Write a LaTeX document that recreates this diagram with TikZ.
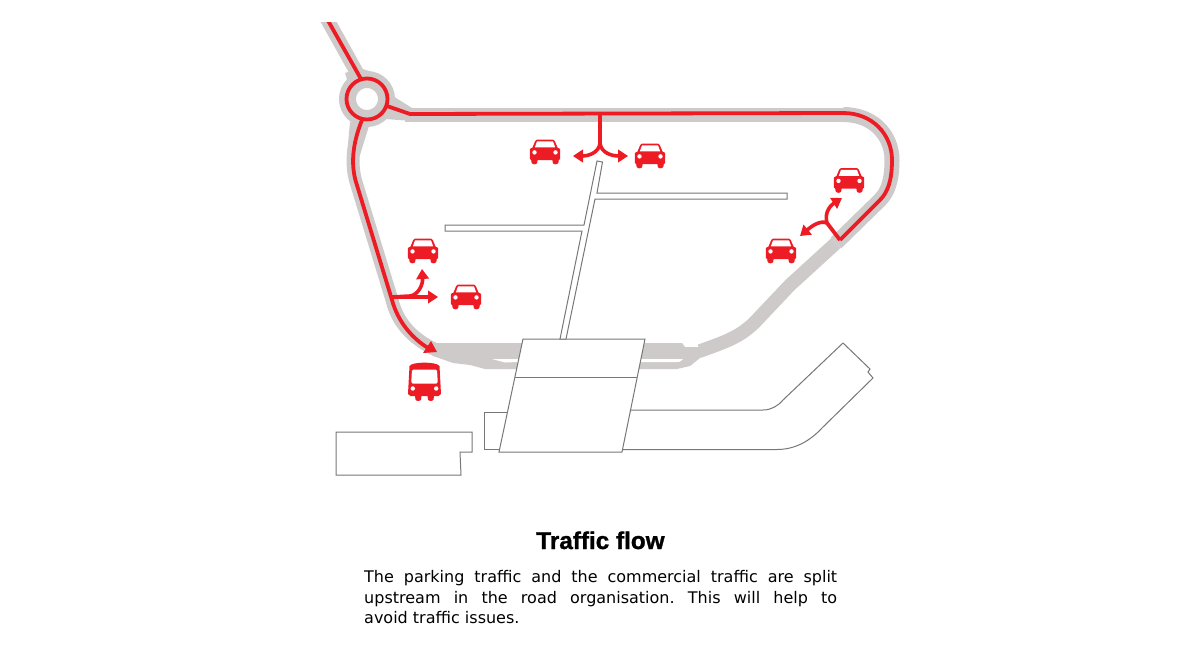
\documentclass[tikz,border=0pt]{standalone}
\usepackage{fontspec}
\setmainfont{DejaVu Sans}
\newfontfamily\titlefont[BoldFeatures={FakeBold=1.2}]{Liberation Sans}
\usetikzlibrary{arrows.meta}
\definecolor{roadred}{HTML}{ED1C24}
\definecolor{roadgray}{HTML}{CFCACA}
\definecolor{wallgray}{HTML}{777777}
\tikzset{
  road/.style={draw=roadgray, line width=14pt, line join=round},
  route/.style={draw=roadred, line width=3.8pt, line join=round},
  turn/.style={draw=roadred, line width=3.6pt, -{Triangle[length=10pt,width=12.5pt]}},
  wall/.style={draw=wallgray, line width=1pt, fill=white, line join=miter},
  car/.pic={
    \fill[roadred] (-15.2,7) -- (-15.2,-3) -- (-12.5,-4.5) -- (-9.8,-11) .. controls (-9.2,-12.4) .. (-8,-12.4)
      -- (8,-12.4) .. controls (9.2,-12.4) .. (9.8,-11) -- (12.5,-4.5) -- (15.2,-3) -- (15.2,7) -- (13.8,8)
      -- (13.4,10.8) .. controls (12.6,12.8) and (8.6,12.8) .. (7.8,10.8) -- (7.4,8) -- (-7.4,8)
      -- (-7.8,10.8) .. controls (-8.6,12.8) and (-12.6,12.8) .. (-13.4,10.8) -- (-13.8,8) -- cycle;
    \fill[white] (-8,-10.6) -- (8,-10.6) -- (10.2,-4.6) -- (-10.2,-4.6) -- cycle;
    \fill[white] (-10.5,0.4) circle (2.2) (10.5,0.4) circle (2.2);
  },
  bus/.pic={
    \fill[roadred] (-16.5,13) -- (-15,-15) .. controls (-12,-19.5) and (12,-19.5) .. (15,-15) -- (16.5,13)
      .. controls (16,14.5) .. (14,15) -- (9.5,15) -- (9,18.5) .. controls (8.5,20.4) and (4,20.4) .. (3.5,18.5) -- (3,15)
      -- (-3,15) -- (-3.5,18.5) .. controls (-4,20.4) and (-8.5,20.4) .. (-9,18.5) -- (-9.5,15) -- (-14,15)
      .. controls (-16,14.5) .. cycle;
    \fill[white, rounded corners=1.5pt] (-12.5,-11.5) -- (12.5,-11.5) -- (13.3,2.5) -- (-13.3,2.5) -- cycle;
    \fill[white] (-11.7,7.5) circle (2.2) (11.7,7.5) circle (2.2);
  }
}
\begin{document}
\begin{tikzpicture}[x=1pt, y=-1pt]
\useasboundingbox (0,0) rectangle (1200,667);
% roads
\begin{scope}
\clip (300,22) rectangle (400,90);
\draw[road] (322,10) -- (361,80);
\end{scope}
\fill[roadgray] (345,73) -- (360,68) -- (372,72) -- (350,90) -- cycle;
\fill[roadgray] (393,96) -- (412,108) -- (412,121) -- (385,119) -- cycle;
\fill[roadgray] (350,122) -- (369,126) -- (360,155) -- (347,155) -- cycle;
\draw[road] (405,114.5) -- (843,114.5);
\draw[road, line width=15pt] (843,114.5) .. controls (873,114.5) and (892,135) .. (892,160)
  .. controls (892,180) and (888,192) .. (880,200) -- (836,243);
\draw[road, line width=13.5pt] (836,243) -- (790,285) -- (755,322)
  .. controls (740,337) and (725,342) .. (700,351);
\draw[road, line width=13pt] (362,122) .. controls (352,145) and (351,165) .. (356,182) -- (392,300)
  .. controls (398,325) and (415,340) .. (436,350);
\fill[roadgray] (436,343) -- (447,343) -- (682,343) -- (685,347) -- (707,347) -- (715,352) -- (700,358)
  -- (690,366) -- (677,369) -- (485,369) -- (470,365) -- (453,363) -- (433,356) -- cycle;
\fill[white] (492,359) -- (683,359) .. controls (680,362) .. (676,362) -- (518,362) -- (505,362.5) -- cycle;
\draw[roadgray, line width=17pt] (367,99) circle (19.5);
% routes
\begin{scope}
\clip (300,22) rectangle (400,90);
\draw[route] (322,10) -- (361,79);
\end{scope}
\draw[route] (367,99) circle (20.5);
\draw[route] (387,106) -- (410,114) -- (843,113) .. controls (873,113) and (892,135) .. (892,160)
  .. controls (892,180) and (888,192) .. (880,200) -- (840,240);
\draw[route] (362,120) .. controls (352,145) and (351,165) .. (356,182) -- (392,300)
  .. controls (398,322) and (412,338) .. (428,348);
\fill[roadred] (437,352) -- (423,353) -- (431,341) -- cycle;
% branches
\coordinate (topsplit) at (600,143);
\coordinate (leftsplit) at (392,297);
\coordinate (rightsplit) at (827,223);
\draw[route] (600,113) -- (topsplit);
\draw[turn] (topsplit) .. controls (599,153) and (588,156) .. (573,156);
\draw[turn] (topsplit) .. controls (601,153) and (612,156) .. (628,156);
\draw[turn] (leftsplit) -- (438,297);
\draw[turn] (leftsplit) -- (410,296) .. controls (418,295) and (423,285) .. (422,269);
\draw[route] (840,240) -- (rightsplit);
\draw[turn] (rightsplit) .. controls (824,212) and (831,205) .. (842,198);
\draw[turn] (rightsplit) .. controls (820,220) and (812,226) .. (800,236);
% buildings
\draw[wall] (336,432) -- (472,432) -- (472,452) -- (460,452) -- (461,475) -- (336,475) -- cycle;
\draw[wall] (484,412) -- (510,412) -- (510,449.5) -- (484,449.5) -- cycle;
\draw[wall] (625,410) -- (763,410) .. controls (771,410) and (778,406) .. (783,400) -- (843,343)
  -- (870,369) -- (868,372) -- (873,378) -- (822,428) .. controls (810,441) and (795,449.5) .. (777,449.5)
  -- (615,449.5) -- cycle;
\draw[wall] (523,339) -- (645,339) -- (622,452) -- (499,452) -- cycle;
\draw[wall] (515,377) -- (637,377);
\draw[wall] (597,161) -- (602.5,162) -- (597,193) -- (787,193) -- (787,199) -- (595,199) -- (566,339)
  -- (560,339) -- (582,231) -- (445,231) -- (445,225) -- (584,225) -- cycle;
% vehicles
\pic at (545,152) {car};
\pic at (650,156) {car};
\pic at (849,180.5) {car};
\pic at (781,251) {car};
\pic at (423,251) {car};
\pic at (466,297) {car};
\pic at (424.5,381) {bus};
% captions
\node[font=\titlefont\bfseries\fontsize{24.3}{28}\selectfont, anchor=base] (title) at (600.5,549) {Traffic flow};
\node[font=\fontsize{16}{20.7}\selectfont, text width=473pt, align=justify, inner sep=0pt, anchor=north west] (caption) at (364,570)
  {\frenchspacing The parking traffic and the commercial traffic are split\linebreak upstream in the road organisation. This will help to\linebreak avoid traffic issues.};
\end{tikzpicture}
\end{document}
